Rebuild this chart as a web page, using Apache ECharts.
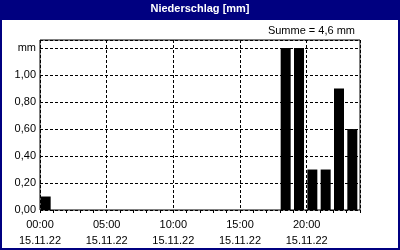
<!DOCTYPE html>
<html>
<head>
<meta charset="utf-8">
<script src="https://cdn.jsdelivr.net/npm/echarts@6/dist/echarts.min.js"></script>
<style>
html,body{margin:0;padding:0;background:#fff;}
#c{width:400px;height:250px;}
</style>
</head>
<body>
<div id="c"></div>
<script>
var titleText = 'Niederschlag [mm]';
var sumText = 'Summe = 4,6 mm';
var dateLabel = '15.11.22';
var hours = [0, 18, 19, 20, 21, 22, 23];
var values = [0.1, 1.2, 1.2, 0.3, 0.3, 0.9, 0.6];
var yTickValues = [0, 0.2, 0.4, 0.6, 0.8, 1.0, 1.2];
var yTickLabels = ['0,00', '0,20', '0,40', '0,60', '0,80', '1,00', 'mm'];
var xTickHours = [0, 5, 10, 15, 20];
var xTickLabels = ['00:00', '05:00', '10:00', '15:00', '20:00'];

var FONT = 'Liberation Sans';
var data = hours.map(function (h, i) { return [h, values[i]]; });

var chart = echarts.init(document.getElementById('c'), null, {renderer: 'canvas'});
chart.setOption({
  animation: false,
  backgroundColor: '#ffffff',
  grid: {left: 40, right: 40, top: 40, bottom: 40, show: true, borderColor: '#000', borderWidth: 1, backgroundColor: 'transparent'},
  xAxis: [{
    type: 'value', min: 0, max: 24, interval: 5,
    axisLine: {show: false},
    axisTick: {show: false},
    splitLine: {show: true, lineStyle: {color: '#000', type: [3, 2], width: 1}},
    axisLabel: {
      margin: 7, color: '#000', fontFamily: FONT, fontSize: 11, lineHeight: 16,
      showMaxLabel: false,
      formatter: function (v) {
        var i = xTickHours.indexOf(v);
        return i >= 0 ? xTickLabels[i] + '\n' + dateLabel : '';
      }
    }
  }, {
    type: 'value', min: 0, max: 24, interval: 1, position: 'bottom',
    axisLine: {show: false},
    axisTick: {show: true, length: 3, lineStyle: {color: '#000'}},
    axisLabel: {show: false},
    splitLine: {show: false}
  }],
  yAxis: {
    type: 'value', min: 0, max: 1.26, interval: 0.2,
    axisLine: {show: false},
    axisTick: {show: false},
    splitLine: {show: true, lineStyle: {color: '#000', type: [3, 2], width: 1}},
    axisLabel: {
      margin: 4, color: '#000', fontFamily: FONT, fontSize: 11,
      formatter: function (v) {
        for (var i = 0; i < yTickValues.length; i++) {
          if (Math.abs(v - yTickValues[i]) < 1e-6) return yTickLabels[i];
        }
        return '';
      }
    }
  },
  series: [{
    type: 'custom',
    xAxisIndex: 0,
    data: data,
    renderItem: function (params, api) {
      var h = api.value(0), v = api.value(1);
      var p0 = api.coord([h + 0.05, 0]);
      var p1 = api.coord([h + 0.8, v]);
      return {
        type: 'rect',
        shape: {x: p0[0], y: p1[1], width: p1[0] - p0[0], height: p0[1] - p1[1]},
        style: {fill: '#000'}
      };
    }
  }],
  graphic: [
    {type: 'rect', z: 100, shape: {x: 0, y: 0, width: 400, height: 20}, style: {fill: '#000080'}},
    {type: 'rect', z: 100, shape: {x: 1, y: 1, width: 398, height: 248}, style: {fill: 'none', stroke: '#000080', lineWidth: 2}},
    {type: 'text', z: 101, left: 'center', top: 3, style: {text: titleText, fill: '#fff', font: 'bold 11px "Liberation Sans"'}},
    {type: 'text', z: 101, right: 45, top: 25, style: {text: sumText, fill: '#000', font: '11px "Liberation Sans"'}}
  ]
});
</script>
</body>
</html>
